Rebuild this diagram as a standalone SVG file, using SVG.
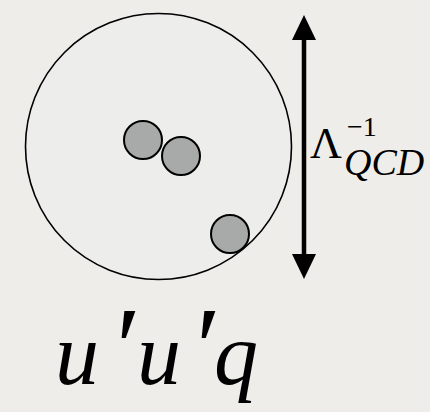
<svg xmlns="http://www.w3.org/2000/svg" width="430" height="412" viewBox="0 0 430 412">
<defs>
<style>
.q{fill:#a7aaa9;stroke:#000;stroke-width:2}
text{font-family:"Liberation Serif","DejaVu Serif",serif;fill:#000}
.u{font-size:88px;font-style:italic}
.p{font-size:114px;font-style:italic}
</style>
</defs>
<rect width="430" height="412" fill="#efede9"/>
<g id="hadron">
<circle cx="158.5" cy="146.5" r="133" fill="#ededeb" stroke="#000" stroke-width="1.6"/>
</g>
<g id="quark1"><circle class="q" cx="143" cy="140" r="19"/></g>
<g id="quark2"><circle class="q" cx="181" cy="156" r="19"/></g>
<g id="quark3"><circle class="q" cx="230" cy="234" r="19"/></g>
<g id="connectors">
<line x1="304" y1="38" x2="304" y2="256" stroke="#000" stroke-width="4.5"/>
<polygon points="304,15 292,40 316,40" fill="#000"/>
<polygon points="304,279 292,254 316,254" fill="#000"/>
</g>
<g id="label">
<text x="310" y="158" font-size="44">Λ</text>
<text x="347" y="136" font-size="28">−1</text>
<text x="344" y="175" font-size="38" font-style="italic">QCD</text>
</g>
<g id="name">
<text class="u" x="55" y="384">u</text>
<text class="p" x="109" y="386">′</text>
<text class="u" x="137" y="384">u</text>
<text class="p" x="189" y="386">′</text>
<text class="u" x="214" y="384">q</text>
</g>
</svg>
